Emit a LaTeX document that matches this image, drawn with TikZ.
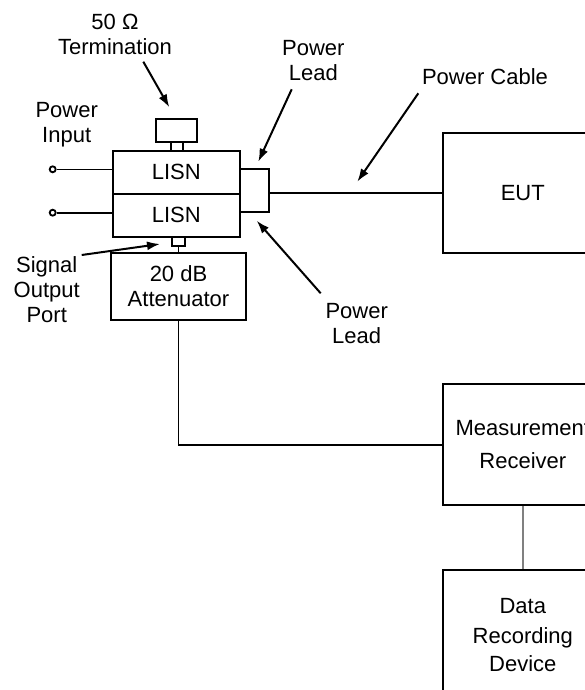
\documentclass[tikz,border=0pt]{standalone}
\usepackage{fontspec}
\setmainfont{Liberation Sans}
\usetikzlibrary{arrows.meta}

\begin{document}
\begin{tikzpicture}[x=1pt,y=-1pt,font=\fontsize{22}{25}\selectfont,align=center,
  box/.style={draw,line width=2pt,inner sep=0pt},
  wire/.style={line width=1.6pt},
  ptr/.style={line width=2pt,-{Latex[length=13pt,width=9pt]}}]
\useasboundingbox (0,0) rectangle (585,690);
\clip (0,0) rectangle (585,690);
\node[box,minimum width=127.3pt,minimum height=43pt,text depth=-4pt] (lisnA) at (176.3,172.2) {LISN};
\node[box,minimum width=127.3pt,minimum height=43pt,text depth=-4pt] (lisnB) at (176.3,215.2) {LISN};
\node[box,minimum width=41.3pt,minimum height=22.7pt] (term) at (176.7,130.3) {};
\node[box,minimum width=12pt,minimum height=9pt] (termlink) at (176.7,146.2) {};
\node[box,minimum width=13pt,minimum height=8.4pt] (port) at (178.5,241.5) {};
\node[box,minimum width=29pt,minimum height=43.6pt] (lead) at (254.5,190.5) {};
\node[box,minimum width=135pt,minimum height=67.3pt] (atten) at (178.5,286.3) {20 dB\\Attenuator};
\node[box,minimum width=159pt,minimum height=120pt] (eut) at (522.8,192.7) {EUT};
\node[box,minimum width=159pt,minimum height=120.7pt] (recv) at (522.8,444.7) {Measurement\\[7.7pt]Receiver};
\node[box,minimum width=159pt,minimum height=130pt] (data) at (522.8,635) {Data\\[5pt]Recording\\[3.3pt]Device};
\node[circle,draw,line width=1.8pt,inner sep=0pt,minimum size=6pt] (inA) at (52.7,169.3) {};
\node[circle,draw,line width=1.8pt,inner sep=0pt,minimum size=6pt] (inB) at (52.7,212.7) {};
\draw[wire] (inA.east) -- (lisnA.west |- inA);
\draw[wire] (inB.east) -- (lisnB.west |- inB);
\draw[wire] (lead.east |- eut.west) -- (eut.west);
\draw[wire] (port.south) -- (atten.north);
\draw[wire] (atten.south) |- (recv.west);
\draw[wire,gray] (recv.south) -- (data.north);
\node (ohm) at (115,34.2) {50 Ω\\Termination};
\node (pin) at (66.7,124.3) {Power\\Input};
\node (sig) at (46.7,290) {Signal\\Output\\Port};
\node (leadA) at (313.3,61) {Power\\Lead};
\node (cable) at (485,76.7) {Power Cable};
\node (leadB) at (356.7,323.5) {Power\\Lead};
\coordinate (ohmT) at (143.3,61.7);
\coordinate (ohmH) at (169.3,107.3);
\coordinate (leadAT) at (291.7,89.3);
\coordinate (leadAH) at (258.3,161.7);
\coordinate (cableT) at (418.3,93.3);
\coordinate (cableH) at (357.3,181.7);
\coordinate (leadBT) at (320.7,293.3);
\coordinate (leadBH) at (256.7,220.7);
\coordinate (sigT) at (81.7,255);
\coordinate (sigH) at (160,244);
\draw[ptr] (ohmT) -- (ohmH);
\draw[ptr] (leadAT) -- (leadAH);
\draw[ptr] (cableT) -- (cableH);
\draw[ptr] (leadBT) -- (leadBH);
\draw[ptr] (sigT) -- (sigH);
\end{tikzpicture}
\end{document}
